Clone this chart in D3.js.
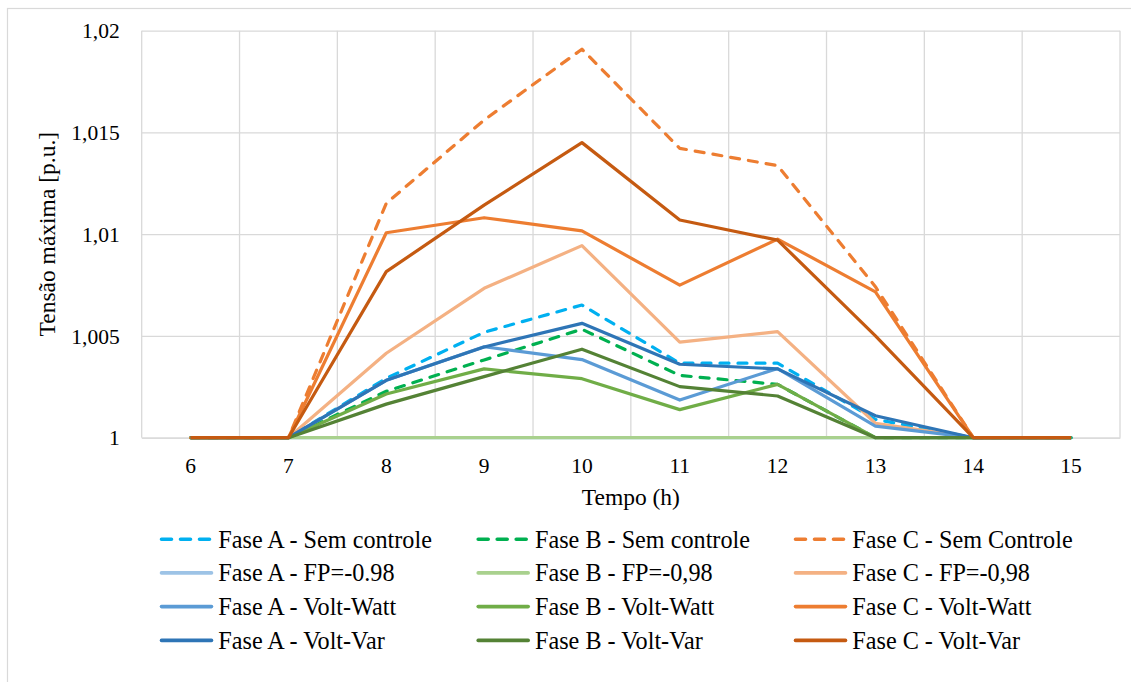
<!DOCTYPE html>
<html lang="pt">
<head>
<meta charset="utf-8">
<script src="https://cdn.jsdelivr.net/npm/d3@7"></script>
<style>
  html, body { margin: 0; padding: 0; background: #ffffff; }
  svg text { font-family: "Liberation Serif", "Times New Roman", Tinos, "DejaVu Serif", serif; }
</style>
</head>
<body>
<svg id="chart" width="1131" height="682"></svg>
<script>
// Horas do dia (eixo das categorias)
const hours = [6, 7, 8, 9, 10, 11, 12, 13, 14, 15];

// Tensão máxima [p.u.] por fase e estratégia de controle
const faseA_semControle = [1, 1, 1.00292, 1.00518, 1.00652, 1.00366, 1.00366, 1.00090, 1, 1];
const faseB_semControle = [1, 1, 1.00228, 1.00382, 1.00533, 1.00306, 1.00262, 1.00000, 1, 1];
const faseC_semControle = [1, 1, 1.01152, 1.01561, 1.01909, 1.01422, 1.01337, 1.00742, 1, 1];
const faseA_fp = [1, 1, 1, 1, 1, 1, 1, 1, 1, 1];
const faseB_fp = [1, 1, 1, 1, 1, 1, 1, 1, 1, 1];
const faseC_fp = [1, 1, 1.00415, 1.00734, 1.00944, 1.00470, 1.00521, 1.00071, 1, 1];
const faseA_voltWatt = [1, 1, 1.00282, 1.00447, 1.00384, 1.00185, 1.00340, 1.00057, 1, 1];
const faseB_voltWatt = [1, 1, 1.00215, 1.00338, 1.00290, 1.00138, 1.00262, 1, 1, 1];
const faseC_voltWatt = [1, 1, 1.01007, 1.01081, 1.01016, 1.00750, 1.00976, 1.00717, 1, 1];
const faseA_voltVar = [1, 1, 1.00282, 1.00446, 1.00562, 1.00361, 1.00338, 1.00108, 1, 1];
const faseB_voltVar = [1, 1, 1.00165, 1.00300, 1.00435, 1.00251, 1.00205, 1, 1, 1];
const faseC_voltVar = [1, 1, 1.00816, 1.01143, 1.01450, 1.01070, 1.00971, 1.00500, 1, 1];

// Nomes das séries (ordem da legenda, linha a linha)
const seriesNames = [
  "Fase A - Sem controle", "Fase B - Sem controle", "Fase C - Sem Controle",
  "Fase A - FP=-0.98", "Fase B - FP=-0,98", "Fase C - FP=-0,98",
  "Fase A - Volt-Watt", "Fase B - Volt-Watt", "Fase C - Volt-Watt",
  "Fase A - Volt-Var", "Fase B - Volt-Var", "Fase C - Volt-Var"
];
const seriesValues = [
  faseA_semControle, faseB_semControle, faseC_semControle,
  faseA_fp, faseB_fp, faseC_fp,
  faseA_voltWatt, faseB_voltWatt, faseC_voltWatt,
  faseA_voltVar, faseB_voltVar, faseC_voltVar
];
const seriesColors = [
  "#00B0F0", "#00B050", "#ED7D31",
  "#9DC3E6", "#A9D18E", "#F4B183",
  "#5B9BD5", "#70AD47", "#ED7D31",
  "#2E75B6", "#548235", "#C55A11"
];
const seriesDashed = [true, true, true, false, false, false, false, false, false, false, false, false];

// Marcas do eixo vertical
const yTicks = [1, 1.005, 1.01, 1.015, 1.02];

const FONT = "'Liberation Serif', 'Times New Roman', Tinos, 'DejaVu Serif', serif";
const svg = d3.select("#chart");
const plot = { left: 141.7, right: 1120, top: 30.7, bottom: 437.7 };
const gridColor = "#D9D9D9";

// Moldura da área do gráfico
svg.append("rect")
  .attr("x", 7.5).attr("y", 8.5)
  .attr("width", 1140).attr("height", 700)
  .attr("fill", "#fff").attr("stroke", gridColor).attr("stroke-width", 1.2);

const x = d3.scaleBand().domain(hours).range([plot.left, plot.right]).padding(0);
const y = d3.scaleLinear().domain([1, 1.02]).range([plot.bottom, plot.top]);
const cx = h => x(h) + x.bandwidth() / 2;

const ptBR = d3.formatLocale({ decimal: ",", thousands: ".", grouping: [3], currency: ["", ""] });
const fmt = ptBR.format("~g");

// Grade horizontal
const yAxis = d3.axisLeft(y).tickValues(yTicks).tickSize(-(plot.right - plot.left)).tickPadding(22).tickFormat(fmt);
const gy = svg.append("g").attr("transform", `translate(${plot.left},0)`).call(yAxis)
  .attr("font-family", FONT);
gy.select(".domain").remove();
gy.selectAll(".tick line").attr("stroke", gridColor).attr("stroke-width", 1.3);
gy.selectAll(".tick text")
  .attr("fill", "#000").attr("font-size", "21.5px")
  .style("font-family", FONT)
  .attr("dy", "0.33em");

// Grade vertical nas divisas das categorias
const edges = hours.map(h => x(h)).concat([plot.right]);
svg.append("g").selectAll("line").data(edges).join("line")
  .attr("x1", d => d).attr("x2", d => d)
  .attr("y1", plot.top).attr("y2", plot.bottom)
  .attr("stroke", gridColor).attr("stroke-width", 1.3);

// Eixo horizontal (rótulos centrados nas categorias)
const xAxis = d3.axisBottom(x).tickSize(0).tickPadding(20);
const gx = svg.append("g").attr("transform", `translate(0,${plot.bottom})`).call(xAxis)
  .attr("font-family", FONT);
gx.select(".domain").attr("stroke", gridColor).attr("stroke-width", 1.3);
gx.selectAll(".tick text")
  .attr("fill", "#000").attr("font-size", "21.5px")
  .style("font-family", FONT);

// Linhas das séries
const line = d3.line().x((d, i) => cx(hours[i])).y(d => y(d));
seriesValues.forEach((vals, i) => {
  svg.append("path")
    .datum(vals)
    .attr("d", line)
    .attr("fill", "none")
    .attr("stroke", seriesColors[i])
    .attr("stroke-width", 3.2)
    .attr("stroke-linejoin", "round")
    .attr("stroke-linecap", seriesDashed[i] ? "round" : "butt")
    .attr("stroke-dasharray", seriesDashed[i] ? "9,9" : null);
});

// Títulos dos eixos
svg.append("text")
  .attr("x", (plot.left + plot.right) / 2).attr("y", 505)
  .attr("text-anchor", "middle").attr("font-size", "23.5px").attr("fill", "#000")
  .style("font-family", FONT)
  .text("Tempo (h)");

svg.append("text")
  .attr("transform", `translate(54.5,${(plot.top + plot.bottom) / 2}) rotate(-90)`)
  .attr("text-anchor", "middle").attr("font-size", "23.5px").attr("fill", "#000")
  .style("font-family", FONT)
  .text("Tensão máxima [p.u.]");

// Legenda em três colunas
const legend = svg.append("g");
const colX = [160, 476.7, 794];
const rowY = [539.3, 572.9, 606.6, 640.4];
seriesNames.forEach((name, i) => {
  const c = i % 3, r = Math.floor(i / 3);
  const g = legend.append("g").attr("transform", `translate(${colX[c]},${rowY[r]})`);
  g.append("line")
    .attr("x1", 1.5).attr("x2", 51.5).attr("y1", 0).attr("y2", 0)
    .attr("stroke", seriesColors[i]).attr("stroke-width", 3.6)
    .attr("stroke-linecap", "round")
    .attr("stroke-dasharray", seriesDashed[i] ? "10,9" : null);
  g.append("text")
    .attr("x", 58.3).attr("y", 0).attr("dy", "0.34em")
    .attr("font-size", "24.2px").attr("fill", "#000")
    .style("font-family", FONT)
    .text(name);
});
</script>
</body>
</html>
